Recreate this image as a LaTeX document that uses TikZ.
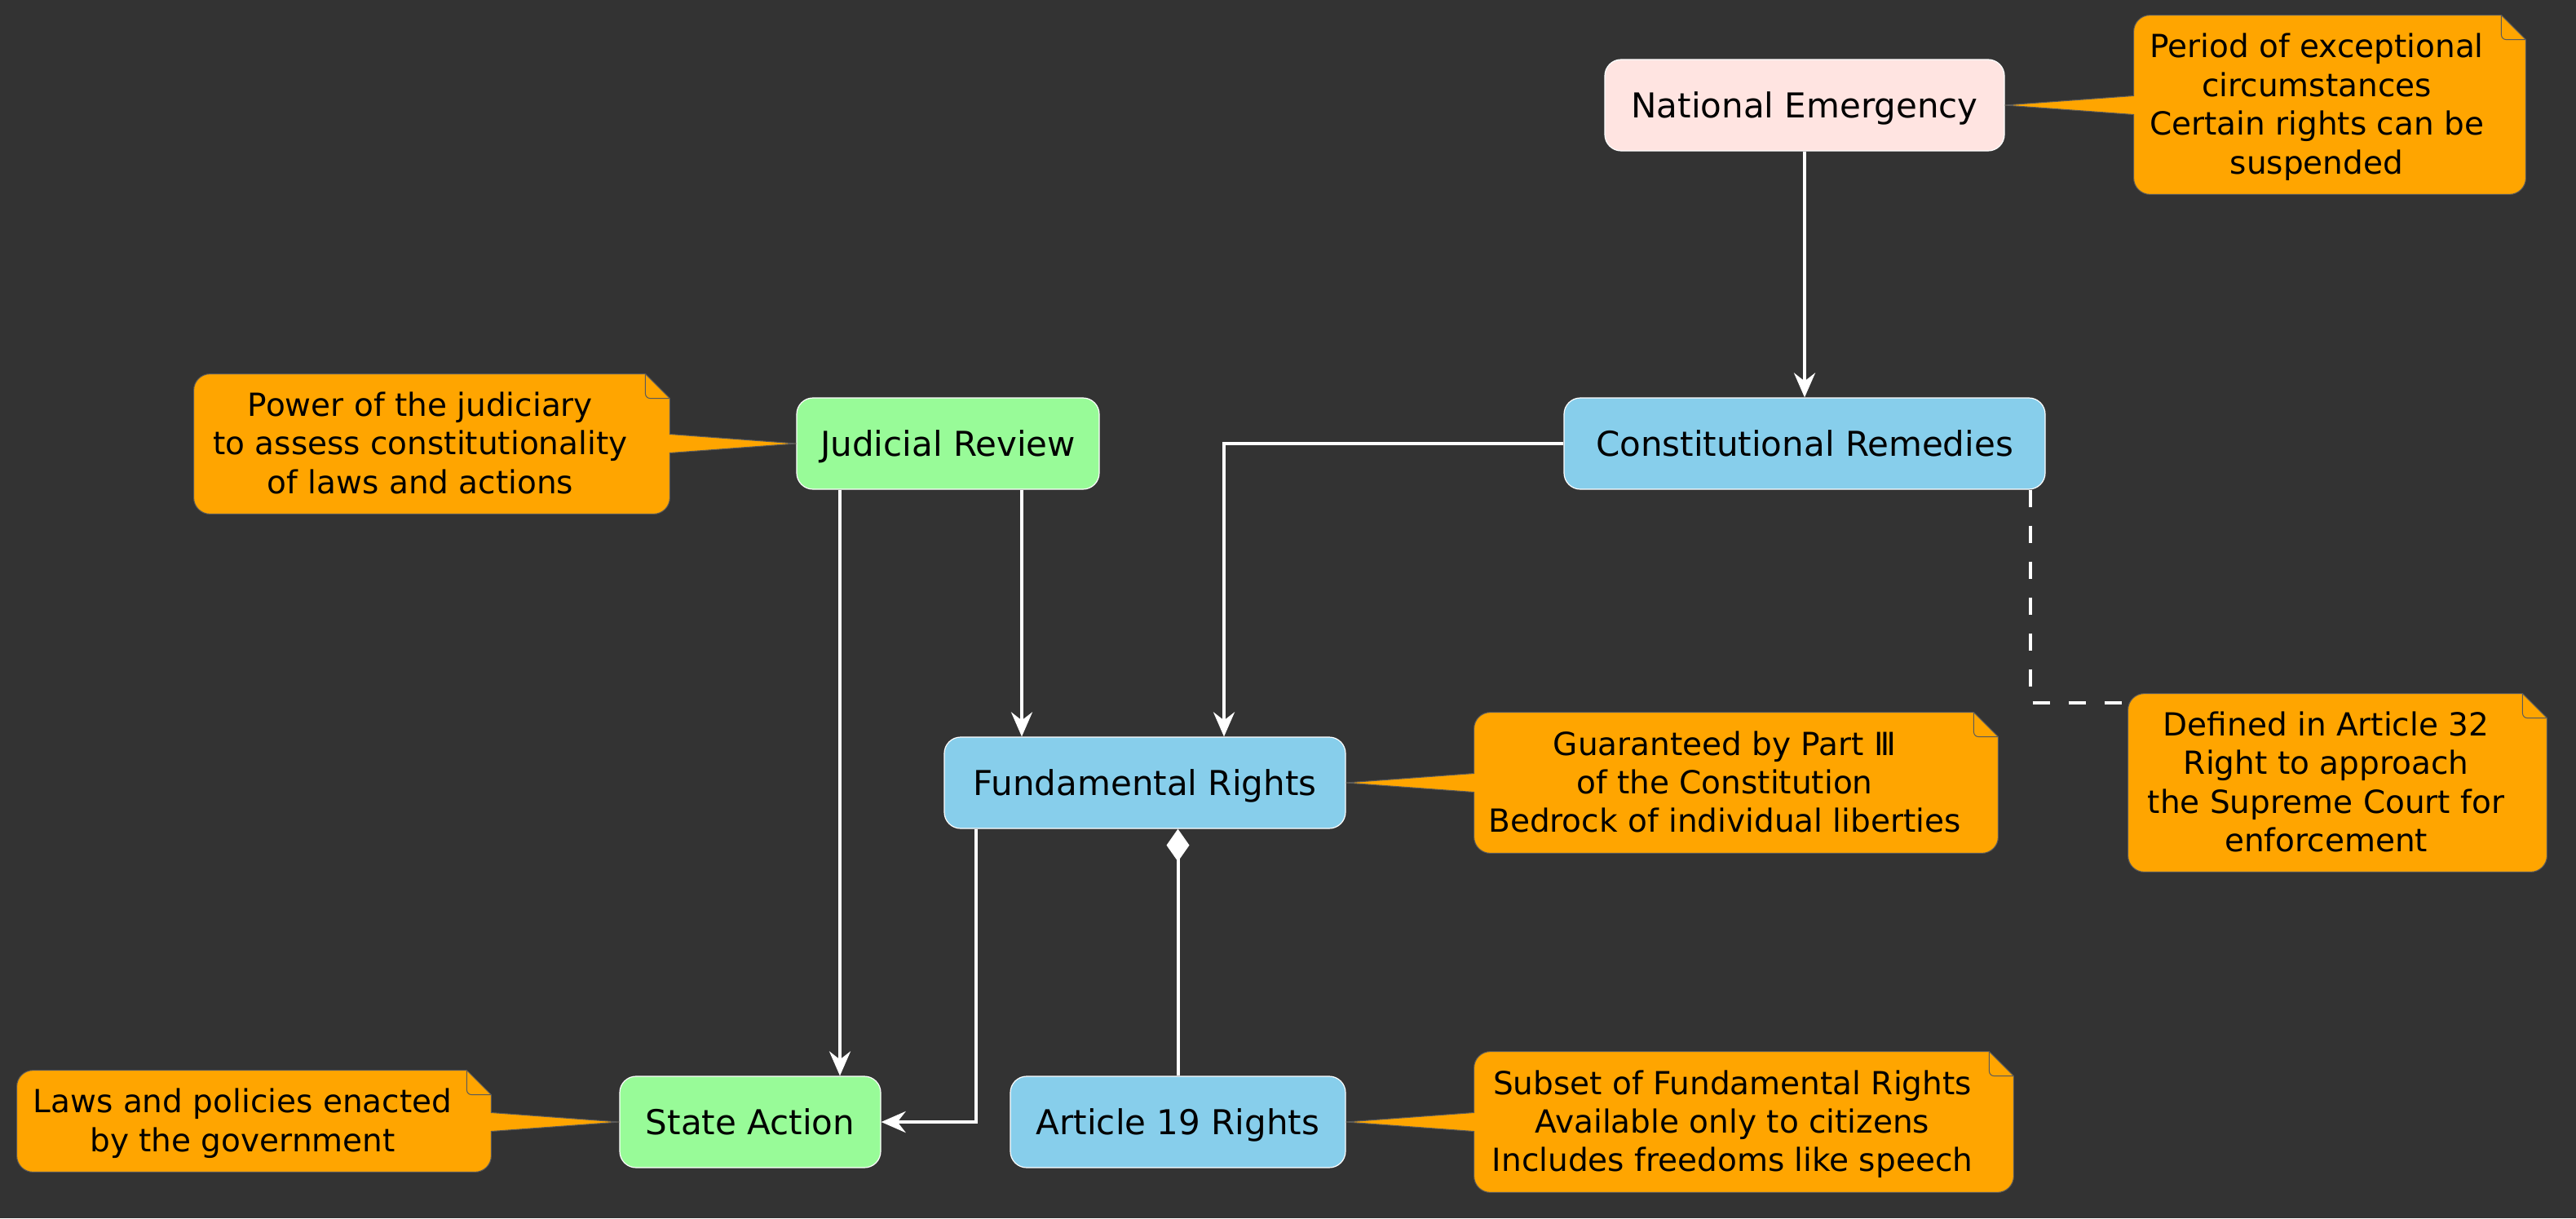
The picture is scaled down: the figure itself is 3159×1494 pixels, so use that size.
\documentclass[tikz,border=0pt]{standalone}
\usepackage{fontspec}
\setmainfont{DejaVu Sans}
\usetikzlibrary{calc,arrows.meta}
\definecolor{bgdark}{HTML}{333333}
\definecolor{noteorange}{HTML}{FFA500}
\definecolor{noteedge}{HTML}{5A5A5A}
\definecolor{rosebox}{HTML}{FFE4E1}
\definecolor{greenbox}{HTML}{98FB98}
\definecolor{bluebox}{HTML}{87CEEB}
% folded corner of a note
\def\notefold(#1){\draw[noteline, rounded corners=3pt] ($(#1.north east)+(-15pt,0)$) |- ($(#1.north east)+(0,-15pt)$);}
% note with its pointer on the left edge
\def\noteL(#1)(#2){\draw[noteline, fill=noteorange] ($(#1.north east)+(-15pt,0)$) -- ($(#1.north west)+(10pt,0)$) arc (90:180:10pt) -- ($(#1.west |- #2)+(0,5.75pt)$) -- (#2) -- ($(#1.west |- #2)+(0,-5.75pt)$) -- ($(#1.south west)+(0,10pt)$) arc (180:270:10pt) -- ($(#1.south east)+(-10pt,0)$) arc (270:360:10pt) -- ($(#1.north east)+(0,-15pt)$) -- cycle; \notefold(#1)}
% note with its pointer on the right edge
\def\noteR(#1)(#2){\draw[noteline, fill=noteorange] ($(#1.north east)+(-15pt,0)$) -- ($(#1.north west)+(10pt,0)$) arc (90:180:10pt) -- ($(#1.south west)+(0,10pt)$) arc (180:270:10pt) -- ($(#1.south east)+(-10pt,0)$) arc (270:360:10pt) -- ($(#1.east |- #2)+(0,-5.75pt)$) -- (#2) -- ($(#1.east |- #2)+(0,5.75pt)$) -- ($(#1.north east)+(0,-15pt)$) -- cycle; \notefold(#1)}
% note with no pointer
\def\noteN(#1){\draw[noteline, fill=noteorange] ($(#1.north east)+(-15pt,0)$) -- ($(#1.north west)+(10pt,0)$) arc (90:180:10pt) -- ($(#1.south west)+(0,10pt)$) arc (180:270:10pt) -- ($(#1.south east)+(-10pt,0)$) arc (270:360:10pt) -- ($(#1.north east)+(0,-15pt)$) -- cycle; \notefold(#1)}

\begin{document}
\begin{tikzpicture}[x=0.5pt, y=-0.5pt,
	box/.style={draw=white, line width=0.6pt, rounded corners=10pt, minimum height=56pt, inner sep=0pt, text height=15.3pt, text depth=0pt, text=black, font=\fontsize{21}{25}\selectfont},
	note/.style={inner sep=0pt, text=black, font=\fontsize{19.5}{23.7}\selectfont},
	noteline/.style={draw=noteedge, line width=0.5pt},
	edge/.style={white, line width=2pt, -{Stealth[length=15pt, width=13pt, inset=5pt]}},
	comp/.style={white, line width=2pt, {Diamond[length=20pt, width=14pt]}-},
	link/.style={white, line width=2pt, dash pattern=on 10.5pt off 11.5pt}]
			%%%%% START %%%%%
			
			\useasboundingbox (0, 0) rectangle (3159, 1494);
			\fill[bgdark] (0, 0) rectangle (3159, 1494);
			
			\node[box, fill=rosebox, minimum width=245pt] (ne) at (2213, 129) {National Emergency};
			\node[box, fill=greenbox, minimum width=185.5pt] (jr) at (1162.5, 544) {Judicial Review};
			\node[box, fill=bluebox, minimum width=295pt] (cr) at (2213, 544) {Constitutional Remedies};
			\node[box, fill=bluebox, minimum width=246pt] (fr) at (1404, 960) {Fundamental Rights};
			\node[box, fill=greenbox, minimum width=160pt] (sa) at (920, 1376) {State Action};
			\node[box, fill=bluebox, minimum width=205.5pt] (art) at (1444.5, 1376) {Article 19 Rights};
			
			\node[note, minimum width=240pt, minimum height=109.5pt] (nne) at (2857, 128.5) {};
			\node[note, minimum width=291.5pt, minimum height=85.5pt] (njr) at (529.5, 544.5) {};
			\node[note, minimum width=321pt, minimum height=86pt] (nfr) at (2129, 960) {};
			\node[note, minimum width=256.5pt, minimum height=109pt] (ncr) at (2866.5, 960) {};
			\node[note, minimum width=290.5pt, minimum height=62pt] (nsa) at (311.5, 1375) {};
			\node[note, minimum width=330.5pt, minimum height=86pt] (nart) at (2138.5, 1376) {};
			
			\noteL(nne)(ne.east)
			\noteR(njr)(jr.west)
			\noteL(nfr)(fr.east)
			\noteN(ncr)
			\noteR(nsa)(sa.west)
			\noteL(nart)(art.east)
			
			\node[note] at ($(nne)+(-8pt,-2pt)$) {\begin{tabular}{@{}c@{}}Period of exceptional\\circumstances\\Certain rights can be\\suspended\end{tabular}};
			\node[note] at ($(njr)+(-7pt,-2pt)$) {\begin{tabular}{@{}c@{}}Power of the judiciary\\to assess constitutionality\\of laws and actions\end{tabular}};
			\node[note] at ($(nfr)+(-7pt,-2pt)$) {\begin{tabular}{@{}c@{}}Guaranteed by Part Ⅲ\\of the Constitution\\Bedrock of individual liberties\end{tabular}};
			\node[note] at ($(ncr)+(-7pt,-2pt)$) {\begin{tabular}{@{}c@{}}Defined in Article 32\\Right to approach\\the Supreme Court for\\enforcement\end{tabular}};
			\node[note] at ($(nsa)+(-7pt,-2pt)$) {\begin{tabular}{@{}c@{}}Laws and policies enacted\\by the government\end{tabular}};
			\node[note] at ($(nart)+(-7pt,-2pt)$) {\begin{tabular}{@{}c@{}}Subset of Fundamental Rights\\Available only to citizens\\Includes freedoms like speech\end{tabular}};
			
			\draw[edge] (ne) -- (cr);
			\draw[edge] (cr.west) -| ([xshift=48.5pt]fr.north);
			\draw[edge] ([xshift=45.25pt]jr.south) -- ([xshift=45.25pt]jr.south |- fr.north);
			\draw[edge] ([xshift=-66.25pt]jr.south) -- ([xshift=-66.25pt]jr.south |- sa.north);
			\draw[edge] ([xshift=-103.5pt]fr.south) |- (sa.east);
			\draw[comp] (art.north |- fr.south) -- (art.north);
			
			\coordinate (bend) at (2490, 862);
			\draw[link] (cr.south -| bend) |- (ncr.west |- bend);
			
			%%%%% END %%%%%
\end{tikzpicture}
\end{document}
